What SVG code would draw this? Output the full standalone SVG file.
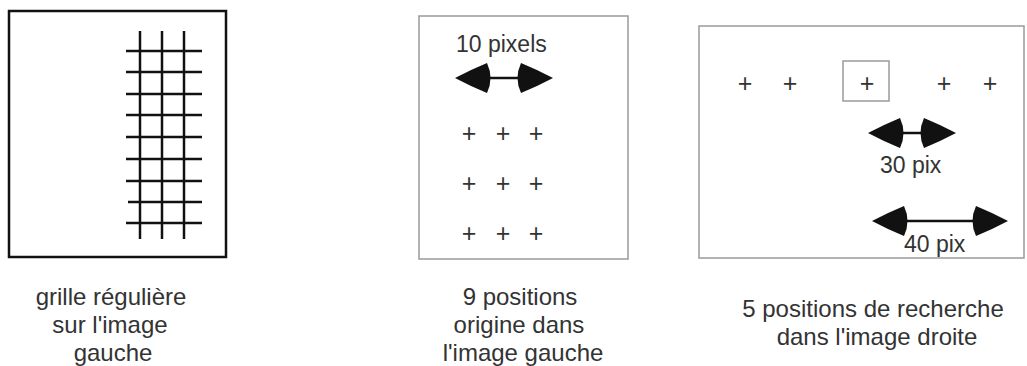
<svg xmlns="http://www.w3.org/2000/svg" xmlns:xlink="http://www.w3.org/1999/xlink" width="1027" height="366" viewBox="0 0 1027 366">
  <style>
    .frame-dark { fill: #fff; stroke: #111; stroke-width: 2.5; }
    .frame-light { fill: #fff; stroke: #9a9a9a; stroke-width: 1.5; }
    .grid line { stroke: #111; stroke-width: 2.5; }
    .shaft { stroke: #111; stroke-width: 2.5; fill: none; }
    .label { font-family: "Liberation Sans", Arial, sans-serif; font-size: 23px; fill: #333; }
    .caption { font-family: "Liberation Sans", Arial, sans-serif; font-size: 24px; fill: #333; text-anchor: middle; }
    .cross { font-family: "Liberation Sans", Arial, sans-serif; font-size: 25px; fill: #333; text-anchor: middle; }
  </style>
  <defs>
    <!-- cone-shaped arrowhead, tip at the origin, pointing right -->
    <path id="head" d="M0,0 Q-15,-8 -32,-15 Q-39,0 -32,15 Q-15,8 0,0 Z" fill="#111"/>
  </defs>

  <rect width="1027" height="366" fill="#fff"/>

  <!-- left image: regular grid -->
  <g id="left-image">
    <rect class="frame-dark" x="9" y="11" width="217" height="246"/>
    <g class="grid">
      <line x1="140" y1="31" x2="140" y2="239"/>
      <line x1="162" y1="31" x2="162" y2="239"/>
      <line x1="184" y1="31" x2="184" y2="239"/>
      <line x1="126" y1="51" x2="202" y2="51"/>
      <line x1="126" y1="72" x2="202" y2="72"/>
      <line x1="126" y1="94" x2="202" y2="94"/>
      <line x1="126" y1="115" x2="202" y2="115"/>
      <line x1="126" y1="137" x2="202" y2="137"/>
      <line x1="126" y1="159" x2="202" y2="159"/>
      <line x1="126" y1="181" x2="202" y2="181"/>
      <line x1="128" y1="202" x2="202" y2="202"/>
      <line x1="126" y1="223" x2="202" y2="223"/>
    </g>
    <text class="caption" x="111" y="305">grille régulière</text>
    <text class="caption" x="110" y="333">sur l'image</text>
    <text class="caption" x="113" y="361">gauche</text>
  </g>

  <!-- middle image: 9 origin positions -->
  <g id="middle-image">
    <rect class="frame-light" x="419" y="16" width="209" height="243"/>
    <text class="label" x="456" y="52">10 pixels</text>
    <g class="cross">
      <text x="469" y="142">+</text><text x="503" y="142">+</text><text x="536" y="142">+</text>
      <text x="469" y="192">+</text><text x="503" y="192">+</text><text x="536" y="192">+</text>
      <text x="469" y="242">+</text><text x="503" y="242">+</text><text x="536" y="242">+</text>
    </g>
    <text class="caption" x="520" y="305">9 positions</text>
    <text class="caption" x="519" y="333">origine dans</text>
    <text class="caption" x="523" y="361">l'image gauche</text>
  </g>

  <!-- right image: 5 search positions -->
  <g id="right-image">
    <rect class="frame-light" x="699" y="26" width="325" height="232"/>
    <rect x="843" y="61" width="46" height="40" fill="none" stroke="#9a9a9a" stroke-width="1.5"/>
    <g class="cross">
      <text x="745" y="92">+</text>
      <text x="790" y="92">+</text>
      <text x="867" y="92">+</text>
      <text x="944" y="92">+</text>
      <text x="990" y="92">+</text>
    </g>
    <text class="label" x="880" y="173">30 pix</text>
    <text class="label" x="904" y="252">40 pix</text>
    <text class="caption" x="873" y="317">5 positions de recherche</text>
    <text class="caption" x="877" y="345">dans l'image droite</text>
  </g>

  <!-- distance arrows -->
  <g id="connectors">
    <line class="shaft" x1="484" y1="78" x2="522" y2="78"/>
    <use xlink:href="#head" transform="translate(455,78) rotate(180)"/>
    <use xlink:href="#head" transform="translate(553,78)"/>

    <line class="shaft" x1="900" y1="133" x2="923" y2="133"/>
    <use xlink:href="#head" transform="translate(868,133) rotate(180)"/>
    <use xlink:href="#head" transform="translate(956,133)"/>

    <line class="shaft" x1="903" y1="221" x2="977" y2="221"/>
    <use xlink:href="#head" transform="translate(872,221) rotate(180)"/>
    <use xlink:href="#head" transform="translate(1008,221)"/>
  </g>
</svg>
